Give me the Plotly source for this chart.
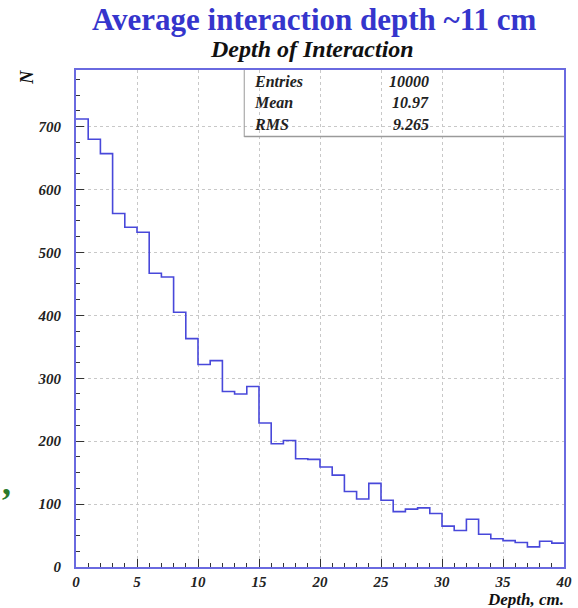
import plotly.graph_objects as go

# Histogram of interaction depth: 40 bins of 1 cm from 0 to 40 cm
bin_edges = list(range(0, 41))
counts = [712, 680, 657, 562, 540, 532, 467, 461, 405, 363,
          322, 328, 279, 275, 287, 229, 196, 201, 172, 171,
          159, 146, 120, 108, 133, 106, 88, 92, 94, 85,
          65, 58, 76, 52, 45, 42, 39, 32, 41, 38]

stat_names = ["Entries", "Mean", "RMS"]
stat_values = ["10000", "10.97", "9.265"]

x_ticks = [0, 5, 10, 15, 20, 25, 30, 35, 40]
y_ticks = [0, 100, 200, 300, 400, 500, 600, 700]

W, H = 578, 608
L, R, T, B = 76, 572, 70, 567  # frame in pixels


def px(xp):
    return (xp - L) / (R - L)


def py(yp):
    return (B - yp) / (B - T)


BLUE = "#4848da"
FRAME = "#6a6ae0"
SERIF = "Times New Roman, Liberation Serif, serif"

step_x = bin_edges
step_y = counts + [counts[-1]]

fig = go.Figure()
fig.add_trace(go.Scatter(
    x=step_x, y=step_y, mode="lines", line_shape="hv",
    line=dict(color=BLUE, width=1.6), hoverinfo="skip", showlegend=False,
))

tickfont = dict(family=SERIF, size=15, color="#222222", style="italic", weight="bold")

fig.update_xaxes(
    range=[0, 40], tickvals=x_ticks, ticktext=[str(v) for v in x_ticks],
    ticks="inside", ticklen=8, tickwidth=1, tickcolor="#333333",
    minor=dict(dtick=1, ticks="inside", ticklen=4, tickcolor="#333333", showgrid=False),
    showgrid=True, gridcolor="#c8c8c8", griddash="dot", gridwidth=1,
    showline=True, linecolor=FRAME, linewidth=2, mirror=True,
    zeroline=False, tickfont=tickfont, ticklabelstandoff=0,
)
fig.update_yaxes(
    range=[0, 790], tickvals=y_ticks, ticktext=[str(v) for v in y_ticks],
    ticks="inside", ticklen=8, tickwidth=1, tickcolor="#333333",
    minor=dict(dtick=25, ticks="inside", ticklen=4, tickcolor="#333333", showgrid=False),
    showgrid=True, gridcolor="#c8c8c8", griddash="dot", gridwidth=1,
    showline=True, linecolor=FRAME, linewidth=2, mirror=True,
    zeroline=False, tickfont=tickfont, ticklabelstandoff=10,
)

annotations = [
    dict(text="Average interaction depth ~11 cm", x=px(318), y=py(19),
         font=dict(family=SERIF, size=31, color="#3535cc", weight="bold")),
    dict(text="Depth of Interaction", x=px(316), y=py(49),
         font=dict(family=SERIF, size=24, color="#111111", weight="bold", style="italic")),
    dict(text="Depth, cm.", x=px(574), y=py(599), xanchor="right",
         font=dict(family=SERIF, size=17, color="#111111", weight="bold", style="italic")),
    dict(text="N", x=px(26), y=py(77), textangle=-90,
         font=dict(family=SERIF, size=18, color="#111111", weight="bold", style="italic")),
    dict(text=",", x=px(5), y=py(482),
         font=dict(family=SERIF, size=36, color="#2b7a2b", weight="bold")),
]
for i, (name, val) in enumerate(zip(stat_names, stat_values)):
    yy = py(81 + 21.5 * i)
    annotations.append(dict(text=name, x=px(255), y=yy, xanchor="left",
                            font=dict(family=SERIF, size=16, color="#222222",
                                      weight="bold", style="italic")))
    annotations.append(dict(text=val, x=px(437), y=yy, xanchor="right",
                            font=dict(family=SERIF, size=16, color="#222222",
                                      weight="bold", style="italic")))
for a in annotations:
    a.update(xref="paper", yref="paper", showarrow=False)
    a.setdefault("xanchor", "center")
    a.setdefault("yanchor", "middle")

# statistics box outline
shapes = [
    dict(type="line", xref="paper", yref="paper", x0=px(247), x1=px(247),
         y0=py(70), y1=py(137), line=dict(color="#9a9a9a", width=1)),
    dict(type="line", xref="paper", yref="paper", x0=px(247), x1=px(572),
         y0=py(136.5), y1=py(136.5), line=dict(color="#9a9a9a", width=1.5)),
]

fig.update_layout(
    width=W, height=H,
    margin=dict(l=L, r=W - R, t=T, b=H - B),
    paper_bgcolor="white", plot_bgcolor="white",
    annotations=annotations, shapes=shapes,
    showlegend=False,
)

fig.write_html("out.html")
